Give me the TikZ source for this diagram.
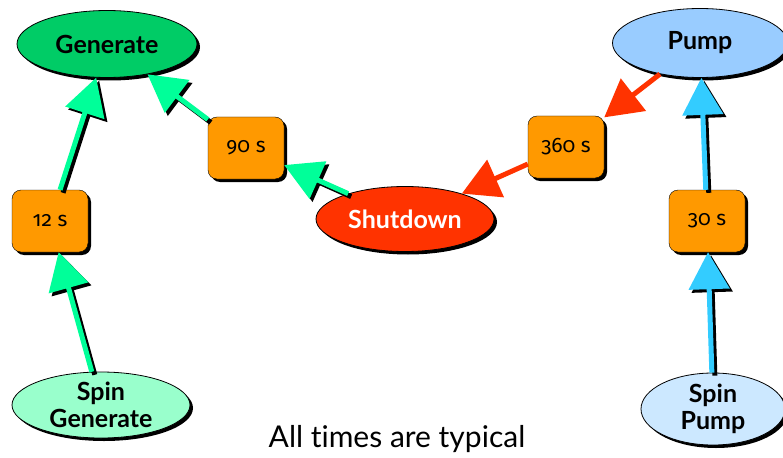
\documentclass[tikz,border=0pt]{standalone}
\usepackage{fontspec}
\setmainfont{Lato}[Ligatures=NoCommon]
\newfontfamily\numfont[Numbers=OldStyle]{Fira Sans}
\usetikzlibrary{
  shapes.geometric, % For the ellipses
  shadows, % For the black drop shadows
  arrows.meta % For arrow tips
}

\definecolor{genfill}{HTML}{00CC66}
\definecolor{spingenfill}{HTML}{99FFCC}
\definecolor{pumpfill}{HTML}{99CCFF}
\definecolor{spinpumpfill}{HTML}{CCE8FF}
\definecolor{shutfill}{HTML}{FF3300}
\definecolor{boxfill}{HTML}{FF9900}
\definecolor{greenflow}{HTML}{00FF99}
\definecolor{blueflow}{HTML}{33CCFF}
\definecolor{redflow}{HTML}{FF3300}

\begin{document}
\begin{tikzpicture}[
      x=1pt, y=-1pt, % pixel like coordinates
      state/.style={ellipse, draw=black, thick, inner sep=0pt, align=center,
        font=\fontsize{25}{27}\selectfont\bfseries,
        drop shadow={shadow xshift=3pt, shadow yshift=-3pt, fill=black, opacity=1}}, % Style for modes
      delay/.style={rectangle, rounded corners=9pt, draw=black, fill=boxfill,
        minimum width=76pt, minimum height=62pt,
        font=\numfont\fontsize{21}{23}\selectfont,
        drop shadow={shadow xshift=3pt, shadow yshift=-3pt, fill=black, opacity=1}}, % Style for time boxes
      flow/.style={line width=5pt, -{Triangle[length=37pt, width=40pt]}}, % Style for transitions
      flowshadow/.style={flow, black, transform canvas={shift={(3pt,-3pt)}}}, % Shadow of transitions
    ]
    \useasboundingbox (0,0) rectangle (783,457);

    % Modes
    \node[state, fill=genfill, minimum width=180pt, minimum height=67pt] (gen) at (107,44) {Generate};
    \node[state, fill=pumpfill, minimum width=175pt, minimum height=69pt] (pump) at (700,43) {Pump};
    \node[state, fill=shutfill, text=white, minimum width=178pt, minimum height=65pt] (shut) at (405,219) {Shutdown};
    \node[state, fill=spingenfill, minimum width=178pt, minimum height=66pt] (spingen) at (101,405) {Spin\\Generate};
    \node[state, fill=spinpumpfill, minimum width=144pt, minimum height=72pt] (spinpump) at (713,409) {Spin\\Pump};

    % Times
    \node[delay] (t12) at (50,221) {12 s};
    \node[delay] (t90) at (246,148) {90 s};
    \node[delay] (t360) at (566,147) {360 s};
    \node[delay] (t30) at (707,221) {30 s};

    % Transitions with shadow
    \foreach \i/\j/\c in {spingen/t12/greenflow, t12/gen/greenflow, shut/t90/greenflow,
      t90/gen/greenflow, spinpump/t30/blueflow, t30/pump/blueflow}
    {
      \draw[flowshadow] (\i) -- (\j);
      \draw[flow, \c] (\i) -- (\j);
    }

    % Transitions without shadow
    \foreach \i/\j in {pump/t360, t360/shut}
    \draw[flow, redflow] (\i) -- (\j);

    \node[font=\fontsize{30}{32}\selectfont] (note) at (397,439) {All times are typical};

  \end{tikzpicture}
\end{document}
